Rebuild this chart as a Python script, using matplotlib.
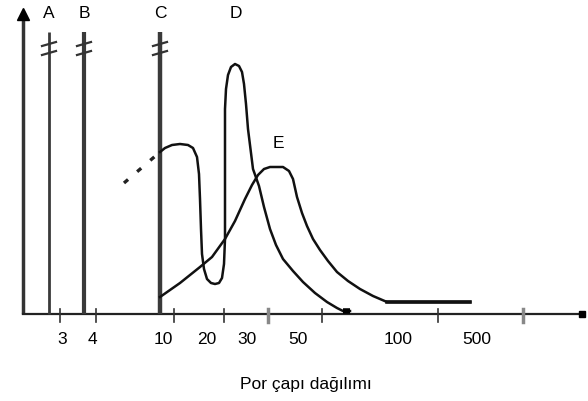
import numpy as np
import matplotlib
matplotlib.use("Agg")
import matplotlib.pyplot as plt

plt.rcParams['font.family'] = ['Liberation Sans', 'DejaVu Sans']

# vertical sharp peaks (single pore sizes)
line_names = ["A", "B", "C"]
line_x = [49, 84, 160]
line_width = [2.0, 3.0, 3.2]
line_top = 282

# curve D (bimodal) - position / height
d_x = [160, 165, 172, 180, 188, 193, 197, 199, 200, 201,
       202, 204, 207, 211, 215, 219, 222, 224, 225, 225,
       225, 225, 226, 228, 231, 235, 239, 242, 244, 246,
       248, 253, 259, 264, 270, 276, 283, 293, 303, 315,
       327, 337, 343, 350]
d_h = [162, 166, 169, 170, 169, 166, 157, 140, 115, 85,
       60, 45, 35, 31, 30, 31, 36, 50, 75, 115,
       165, 205, 225, 239, 247, 250, 248, 242, 230, 210,
       185, 145, 128, 107, 85, 69, 55, 43, 32, 21,
       12, 6, 3, 3]

# dashed start of curve D
d_dash_x = [124, 160]
d_dash_h = [131, 162]

# curve E (broad distribution)
e_x = [160, 180, 200, 212, 225, 235, 245, 252, 258, 264,
       270, 283, 289, 293, 297, 302, 307, 313, 320, 328,
       337, 348, 360, 373, 387, 470]
e_h = [17, 31, 47, 57, 75, 93, 115, 129, 139, 145,
       147, 147, 143, 135, 117, 101, 88, 75, 64, 53,
       42, 33, 25, 18, 12, 12]

tick_x = [60, 96, 174, 224, 268, 322, 438, 523]
tick_gray = [False, False, False, False, True, False, False, True]
tick_labels = ["3", "4", "10", "20", "30", "50", "100", "500"]
tick_label_x = [62, 92, 163, 207, 247, 298, 398, 477]

fig = plt.figure(figsize=(5.88, 4.02), dpi=100)
ax = fig.add_axes([0, 0, 1, 1])
ax.set_xlim(0, 588)
ax.set_ylim(-87, 315)
ax.axis("off")

fs = 12.5

# axes with arrows
ax.plot([23, 23], [0, 300], color="#333333", lw=2.5, solid_capstyle="butt")
ax.plot([23], [300], marker="^", color="black", ms=8)
ax.plot([23, 580], [0, 0], color="#222222", lw=1.6)
ax.plot([582], [0], marker="s", color="black", ms=5)

# ticks
for x, g in zip(tick_x, tick_gray):
    ax.plot([x, x], [-8, 5], color="#888888" if g else "#333333",
            lw=2.5 if g else 1.2)
for lab, x in zip(tick_labels, tick_label_x):
    ax.text(x, -25, lab, ha="center", va="center", fontsize=fs)

# vertical lines with break marks
for name, x, w in zip(line_names, line_x, line_width):
    ax.plot([x, x], [0, line_top], color="#3a3a3a", lw=w, solid_capstyle="butt")
    for hb in (270, 261):
        ax.plot([x - 7, x + 7], [hb - 2, hb + 2], color="#333333", lw=1.6)
    ax.text(x, 301, name, ha="center", va="center", fontsize=fs)

# curves
ax.plot(d_x, d_h, color="#111111", lw=1.8)
ax.plot(d_dash_x, d_dash_h, color="#222222", lw=2.4, linestyle=(0, (1.6, 3.6)))
ax.plot([343, 350], [3, 3], color="black", lw=4, solid_capstyle="butt")
ax.plot(e_x, e_h, color="#111111", lw=1.8)
ax.plot([387, 470], [12, 12], color="#111111", lw=2.6)

ax.text(236, 301, "D", ha="center", va="center", fontsize=fs)
ax.text(278, 172, "E", ha="center", va="center", fontsize=fs)

ax.text(306, -70, "Por çapı dağılımı", ha="center", va="center", fontsize=fs)

plt.savefig("out.png", dpi=100)
